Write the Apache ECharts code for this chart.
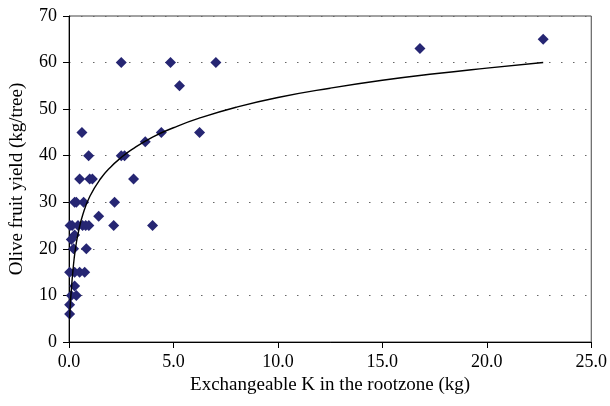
<!DOCTYPE html>
<html style="height: 100%">
<head>
    <meta charset="utf-8">
    <script type="text/javascript" src="https://cdn.jsdelivr.net/npm/echarts@6/dist/echarts.min.js"></script>
</head>
<body style="height: 100%; margin: 0; background: #fff">
<div id="container" style="height: 406px;width: 610px;position: absolute;top: 0;left: 0;"></div>
<script type="text/javascript">
    // measured points: exchangeable K (kg) vs yield (kg/tree)
    var kValues = [22.7, 16.8, 2.5, 4.86, 7.03, 5.29, 0.62, 4.42, 6.25, 3.65,
        0.94, 2.5, 2.66, 0.51, 0.99, 1.12, 3.09, 0.27, 0.35, 0.70, 2.18, 1.42,
        0.05, 0.15, 0.43, 0.65, 0.8, 0.95, 2.14, 4.0, 0.27, 0.11, 0.22, 0.83,
        0.03, 0.27, 0.51, 0.75, 0.27, 0.11, 0.35, 0.03, 0.03];
    var yieldValues = [65, 63, 60, 60, 60, 55, 45, 45, 45, 43,
        40, 40, 40, 35, 35, 35, 35, 30, 30, 30, 30, 27,
        25, 25, 25, 25, 25, 25, 25, 25, 23, 22, 20, 20,
        15, 15, 15, 15, 12, 10, 10, 8, 6];
    // fitted curve
    var curveX = [0.03, 0.06, 0.1, 0.19, 0.3, 0.45, 0.67, 1.0, 1.5, 2.0, 2.5, 3.0,
        4.0, 5.0, 6.2, 8, 10, 12.5, 15, 17.5, 20, 22.7];
    var curveY = [5, 8, 10.5, 15.4, 19.8, 23.6, 27.5, 31.3, 35, 37.6, 39.6, 41.3,
        44, 46, 48, 50.4, 52.5, 54.5, 56.2, 57.6, 58.8, 60];

    var points = [];
    for (var i = 0; i < kValues.length; i++) {
        points.push([kValues[i], yieldValues[i]]);
    }
    var curve = [];
    for (var j = 0; j < curveX.length; j++) {
        curve.push([curveX[j], curveY[j]]);
    }

    var font = 'Liberation Serif';
    var myChart = echarts.init(document.getElementById('container'));
    var option = {
        animation: false,
        textStyle: {fontFamily: font},
        grid: {
            left: 69, right: 17, top: 16, bottom: 64,
            show: true, borderColor: '#444', borderWidth: 1
        },
        xAxis: {
            type: 'value',
            min: 0, max: 25, interval: 5,
            name: 'Exchangeable K in the rootzone (kg)',
            nameLocation: 'middle',
            nameGap: 34,
            nameTextStyle: {fontSize: 19, color: '#000', fontFamily: font},
            axisLine: {show: true, onZero: false, lineStyle: {color: '#000', width: 1}},
            axisTick: {show: true, length: 6, lineStyle: {color: '#000'}},
            axisLabel: {
                fontSize: 18, color: '#000', fontFamily: font, margin: 11,
                formatter: function (v) { return v.toFixed(1); }
            },
            splitLine: {show: false}
        },
        yAxis: {
            type: 'value',
            min: 0, max: 70, interval: 10,
            name: 'Olive fruit yield (kg/tree)',
            nameLocation: 'middle',
            nameGap: 42,
            nameTextStyle: {fontSize: 19, color: '#000', fontFamily: font},
            axisLine: {show: true, lineStyle: {color: '#000', width: 1}},
            axisTick: {show: true, length: 6, lineStyle: {color: '#000'}},
            axisLabel: {fontSize: 18, color: '#000', fontFamily: font, margin: 12},
            splitLine: {show: true, lineStyle: {color: '#666', width: 1.2, type: [1.5, 10.5]}}
        },
        series: [
            {
                type: 'scatter',
                symbol: 'diamond',
                symbolSize: 11,
                itemStyle: {color: '#262673', opacity: 1},
                data: points
            },
            {
                type: 'line',
                smooth: true,
                showSymbol: false,
                lineStyle: {color: '#000', width: 1.4},
                data: curve
            }
        ]
    };
    myChart.setOption(option, true);
</script>
</body>
</html>
